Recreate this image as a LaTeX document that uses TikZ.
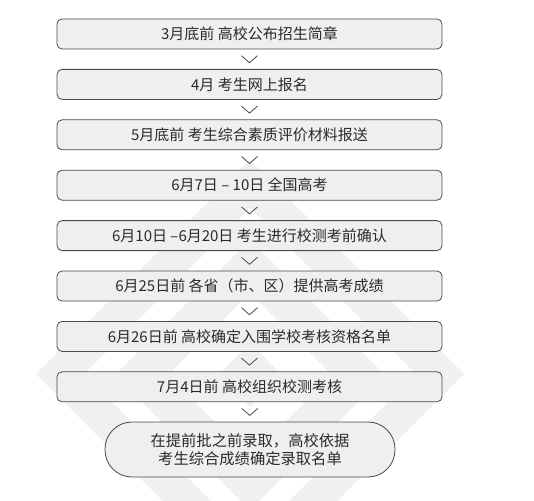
\documentclass[tikz,border=0pt]{standalone}
\usepackage{fontspec}
\setmainfont{Noto Sans CJK SC}
\usetikzlibrary{calc}
\definecolor{wmgray}{HTML}{F0F0F0}
\definecolor{boxfill}{HTML}{EFEFEF}
\definecolor{boxline}{HTML}{4A4A4A}
\definecolor{txt}{HTML}{2A2A2A}
\tikzset{
  stagebox/.style={draw=boxline, line width=0.8pt, fill=boxfill, rounded corners=5pt,
    minimum width=385pt, minimum height=30pt, inner sep=0pt, text=txt,
    font=\fontsize{15pt}{17pt}\selectfont},
  finalbox/.style={draw=boxline, line width=0.8pt, fill=boxfill, rounded corners=27pt,
    minimum width=290pt, minimum height=55pt, inner sep=0pt, text=txt, align=center,
    font=\fontsize{15.3pt}{18.5pt}\selectfont},
  chev/.style={draw=boxline, line width=0.8pt},
  wm/.style={fill=wmgray, even odd rule}
}
\begin{document}
\begin{tikzpicture}[x=1pt,y=-1pt]
\useasboundingbox (0,0) rectangle (534,500);
% faint watermark
\begin{scope}
\clip (0,0) rectangle (534,500);
\fill[wm] (250,160) -- (464,374) -- (250,588) -- (36,374) -- cycle
          (250,208) -- (416,374) -- (250,540) -- (84,374) -- cycle;
\fill[wm] (250,240) -- (385,375) -- (250,510) -- (115,375) -- cycle
          (250,293) -- (332,375) -- (250,457) -- (168,375) -- cycle;
\fill[wm] (250,343) -- (282,375) -- (250,407) -- (218,375) -- cycle;
\end{scope}
% stages
\node[stagebox] (b1) at (249.5,34.0)  {3月底前 高校公布招生简章};
\node[stagebox] (b2) at (249.5,84.4)  {4月 考生网上报名};
\node[stagebox] (b3) at (249.5,134.8) {5月底前 考生综合素质评价材料报送};
\node[stagebox] (b4) at (249.5,185.2) {6月7日 – 10日 全国高考};
\node[stagebox] (b5) at (249.5,235.6) {6月10日 –6月20日 考生进行校测考前确认};
\node[stagebox] (b6) at (249.5,286.0) {6月25日前 各省（市、区）提供高考成绩};
\node[stagebox] (b7) at (249.5,336.4) {6月26日前 高校确定入围学校考核资格名单};
\node[stagebox] (b8) at (249.5,386.8) {7月4日前 高校组织校测考核};
\node[finalbox] (b9) at (250,449.5) {在提前批之前录取，高校依据\\考生综合成绩确定录取名单};
% chevrons between stages
\foreach \a/\b in {b1/b2,b2/b3,b3/b4,b4/b5,b5/b6,b6/b7,b7/b8,b8/b9}{
  \coordinate (m\a) at ($(\a.south)!0.5!(\b.north)$);
  \draw[chev] ($(m\a)+(-8,-3.5)$) -- ($(m\a)+(0,3.5)$) -- ($(m\a)+(8,-3.5)$);
}
\end{tikzpicture}
\end{document}
